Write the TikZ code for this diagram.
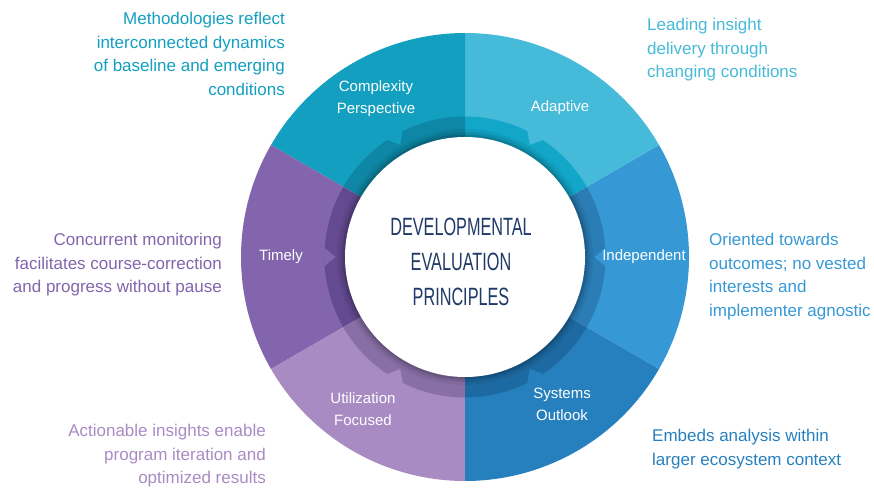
\documentclass[tikz,border=0pt]{standalone}
\usepackage{fontspec}
\setmainfont{Liberation Sans}
\usepackage{graphicx}
\usetikzlibrary{calc}
\definecolor{indep}{HTML}{3698D5}\definecolor{indepR}{HTML}{2A7DB5}
\definecolor{adapt}{HTML}{45BAD9}\definecolor{adaptR}{HTML}{12A6C8}
\definecolor{compl}{HTML}{139FC0}\definecolor{complR}{HTML}{0D87A5}
\definecolor{timely}{HTML}{8265AD}\definecolor{timelyR}{HTML}{634A91}
\definecolor{util}{HTML}{A98BC4}\definecolor{utilR}{HTML}{8870A6}
\definecolor{syst}{HTML}{2680BE}\definecolor{systR}{HTML}{1D6AA3}
\definecolor{navy}{HTML}{1F3A68}
\tikzset{seglabel/.style={text=white,font=\fontsize{15}{22}\selectfont,align=center},
  note/.style={inner sep=0pt,font=\fontsize{17}{23.5}\selectfont},
  title/.style={text=navy,font=\fontsize{25}{30}\selectfont}}

\begin{document}
\begin{tikzpicture}[x=1pt,y=1pt]
\useasboundingbox (0,0) rectangle (874,-487);
\coordinate (c) at (465,-257);
% segments, ring pieces and the little teeth
\foreach \a/\col in {0/indep,60/adapt,120/compl,180/timely,240/util,300/syst}{
  \fill[\col] ($(c)+(\a-30:140)$) arc[start angle=\a-30,end angle=\a+30,radius=140]
    -- ($(c)+(\a+30:224)$) arc[start angle=\a+30,end angle=\a-30,radius=224] -- cycle;
  \fill[\col R] ($(c)+(\a-30:119)$) arc[start angle=\a-30,end angle=\a+30,radius=119]
    -- ($(c)+(\a+30:140.5)$) arc[start angle=\a+30,end angle=\a-30,radius=140.5] -- cycle;
  \fill[\col] ($(c)+(\a-3.8:141)$) -- ($(c)+(\a:129.5)$) -- ($(c)+(\a+3.8:141)$) -- cycle;
}
\foreach \r/\o in {128/0.06,125/0.08,122.5/0.12}
  \fill[black,opacity=\o] (c) circle (\r);
\fill[white] (c) circle (120);
% center title
\node[title] (t1) at (461,-227) {\scalebox{0.65}[1]{DEVELOPMENTAL}};
\node[title] (t2) at (461,-262) {\scalebox{0.65}[1]{EVALUATION}};
\node[title] (t3) at (461,-297) {\scalebox{0.65}[1]{PRINCIPLES}};
% segment labels
\node[seglabel] (complexity) at (376,-99) {Complexity\\Perspective};
\node[seglabel] (adaptive) at (560,-108) {Adaptive};
\node[seglabel] (independent) at (644,-257) {Independent};
\node[seglabel] (systems) at (562,-404) {Systems\\Outlook};
\node[seglabel] (utilization) at (363,-409) {Utilization\\Focused};
\node[seglabel] (timely) at (281,-257) {Timely};
% notes
\node[note,text=compl,align=right,anchor=north east] (ncompl) at (285,-12)
  {Methodologies reflect\\interconnected dynamics\\of baseline and emerging\\conditions};
\node[note,text=adapt,align=left,anchor=north west] (nadapt) at (647,-18)
  {Leading insight\\delivery through\\changing conditions};
\node[note,text=timely,align=right,anchor=north east] (ntimely) at (222,-233)
  {Concurrent monitoring\\facilitates course-correction\\and progress without pause};
\node[note,text=indep,align=left,anchor=north west] (nindep) at (709,-233)
  {Oriented towards\\outcomes; no vested\\interests and\\implementer agnostic};
\node[note,text=util,align=right,anchor=north east] (nutil) at (266,-424)
  {Actionable insights enable\\program iteration and\\optimized results};
\node[note,text=syst,align=left,anchor=north west] (nsyst) at (652,-429)
  {Embeds analysis within\\larger ecosystem context};
\end{tikzpicture}
\end{document}
